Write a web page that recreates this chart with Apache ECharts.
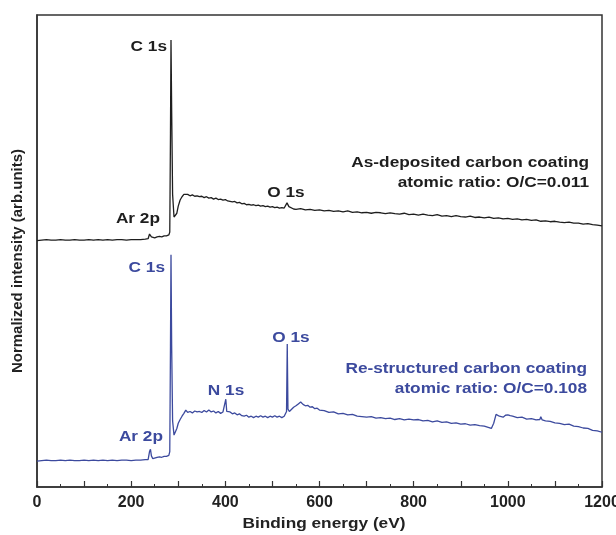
<!DOCTYPE html>
<html>
<head>
<meta charset="utf-8">
<script src="https://cdn.jsdelivr.net/npm/echarts@6/dist/echarts.min.js"></script>
<style>html,body{margin:0;padding:0;background:#fff;overflow:hidden}#c{width:616px;height:535px}</style>
</head>
<body>
<div id="c"></div>
<script>
// As-deposited carbon coating (black)
const blackEnergy = [0,10,20,30,40,50,60,70,80,90,100,110,120,130,140,150,160,170,180,190,200,210,220,230,236,239,241,243,246,250,255,260,265,270,275,280,282,283.5,284.6,286,288,291,294,297,300,304,308,312,316,320,325,330,335,340,345,350,355,360,365,370,375,380,385,390,395,400,405,410,415,420,425,430,435,440,445,450,455,460,465,470,475,480,485,490,495,500,505,510,515,520,525,528,531,533,535,538,545,550,560,570,580,590,600,610,620,630,640,650,660,670,680,690,700,710,720,730,740,750,760,770,780,790,800,810,820,830,840,850,860,870,880,890,900,910,920,930,940,950,960,970,980,990,1000,1010,1020,1030,1040,1050,1060,1070,1080,1090,1100,1110,1120,1130,1140,1150,1160,1170,1180,1190,1200];
const blackIntensity = [52.2,52.3,52.4,52.3,52.3,52.4,52.3,52.3,52.4,52.3,52.3,52.4,52.3,52.4,52.3,52.4,52.3,52.4,52.4,52.3,52.4,52.4,52.4,52.5,52.6,53.6,54.0,53.0,52.6,52.8,53.0,53.1,53.0,53.2,53.2,53.4,54.0,75.0,94.7,80.0,62.0,57.2,57.0,58.0,59.5,60.8,61.5,62.0,62.3,62.0,61.7,61.9,61.6,61.7,61.5,61.6,61.3,61.5,61.2,61.3,61.0,61.2,60.9,61.0,60.8,60.9,60.6,60.5,60.4,60.5,60.2,60.3,60.0,60.1,59.8,59.9,59.7,59.8,59.6,59.7,59.5,59.6,59.4,59.5,59.3,59.4,59.2,59.3,59.1,59.2,59.1,59.2,60.2,60.5,59.4,59.0,58.9,58.8,59.0,58.7,58.8,58.6,58.7,58.5,58.6,58.4,58.5,58.3,58.5,58.2,58.3,58.1,58.2,58.0,58.2,58.1,57.9,58.1,57.9,57.8,58.0,57.7,57.8,57.6,57.8,57.6,57.5,57.7,57.4,57.5,57.3,57.5,57.3,57.2,57.4,57.1,57.2,57.0,57.2,56.9,57.0,56.8,56.9,56.7,56.8,56.6,56.7,56.5,56.6,56.3,56.4,56.2,56.3,56.1,56.0,56.1,55.9,55.9,55.7,55.8,55.6,55.5,55.3];

// Re-structured carbon coating (blue)
const blueEnergy = [0,10,20,30,40,50,60,70,80,90,100,110,120,130,140,150,160,170,180,190,200,210,220,230,236,239,241,243,246,250,255,260,265,270,275,280,282,283.5,284.6,286,288,291,294,297,300,304,308,312,316,320,325,330,335,340,345,350,355,360,365,370,375,380,385,390,395,398,401,403,406,410,415,420,425,430,435,440,445,450,455,460,465,470,475,480,485,490,495,500,505,510,515,520,525,528,530,531.5,533,536,540,545,550,555,560,565,570,575,580,585,590,595,600,610,620,630,640,650,660,670,680,690,700,710,720,730,740,750,760,770,780,790,800,810,820,830,840,850,860,870,880,890,900,910,920,930,940,950,960,965,970,975,978,982,986,990,995,1000,1005,1010,1020,1030,1040,1050,1060,1068,1070,1073,1080,1090,1100,1110,1120,1130,1140,1150,1160,1170,1180,1190,1200];
const blueIntensity = [5.5,5.6,5.7,5.6,5.6,5.7,5.6,5.7,5.6,5.6,5.7,5.6,5.7,5.6,5.7,5.6,5.7,5.6,5.7,5.7,5.6,5.7,5.7,5.8,5.8,7.5,8.0,6.6,6.0,6.1,6.3,6.4,6.3,6.5,6.5,6.7,7.5,30.0,49.2,30.0,14.0,11.0,11.2,12.4,13.5,14.3,15.0,15.6,16.3,15.8,16.0,15.7,16.1,15.9,16.0,15.8,16.2,15.9,16.3,15.9,16.1,15.7,16.0,15.6,15.9,16.1,18.6,16.0,15.6,15.9,15.5,15.7,15.3,15.5,15.1,15.0,15.2,14.8,15.0,14.7,15.0,14.8,15.1,14.8,15.0,14.7,15.0,14.8,15.1,14.8,15.0,14.7,15.0,15.2,16.0,30.3,16.5,16.0,16.3,16.9,17.2,17.6,18.0,17.5,17.2,17.3,16.9,17.0,16.6,16.7,16.3,16.2,15.8,15.9,15.5,15.6,15.3,15.4,15.0,14.9,14.8,14.9,14.6,14.7,14.5,14.6,14.3,14.5,14.2,14.4,14.2,14.3,14.0,14.1,13.8,14.0,13.7,13.8,13.5,13.6,13.3,13.4,13.1,13.2,13.0,12.9,12.6,12.4,13.5,15.4,15.8,15.0,14.6,14.8,15.2,15.3,15.1,15.0,14.7,14.8,14.4,14.5,14.2,14.3,14.9,14.2,14.0,13.9,13.6,13.5,13.2,13.3,12.9,12.8,12.5,12.4,12.0,11.9,11.6];

const xTicks = [0,200,400,600,800,1000,1200];

const BLACK = '#1e1e1e';
const BLUE = '#3c4a9e';
const FONT = '"Liberation Sans", Arial, sans-serif';

function zip(xs, ys){ return xs.map((x,i)=>[x, ys[i]]); }

function label(text, x, y, color, align){
  return {
    type:'text', x:x, y:y, scaleX:1.15, scaleY:1, z:10,
    style:{ text:text, x:0, y:0, fill:color, font:'bold 15px ' + FONT,
            textAlign:align || 'right', textVerticalAlign:'middle' }
  };
}

const chart = echarts.init(document.getElementById('c'), null, {renderer:'canvas'});
chart.setOption({
  animation:false,
  backgroundColor:'#fff',
  grid:{ left:37, right:14, top:15, bottom:48, outerBoundsMode:'none', containLabel:false,
         show:true, borderColor:'#333', borderWidth:1.5, backgroundColor:'transparent' },
  xAxis:{
    type:'value', min:0, max:1200, interval:100,
    axisLine:{ show:true, lineStyle:{ color:'#333', width:1.5 } },
    axisTick:{ show:true, inside:true, length:6, lineStyle:{ color:'#333', width:1.2 } },
    minorTick:{ show:true, splitNumber:2, length:3, lineStyle:{ color:'#333', width:1 } },
    splitLine:{ show:false },
    axisLabel:{ color:'#222', fontWeight:'bold', fontSize:16, fontFamily:FONT, margin:8, hideOverlap:false,
      formatter:function(v){ return xTicks.indexOf(v) >= 0 ? String(v) : ''; } }
  },
  yAxis:{
    type:'value', min:0, max:100,
    axisLine:{ show:true, lineStyle:{ color:'#333', width:1.5 } },
    axisTick:{ show:false }, axisLabel:{ show:false }, splitLine:{ show:false }
  },
  series:[
    { type:'line', data:zip(blackEnergy, blackIntensity), showSymbol:false, symbol:'none',
      lineStyle:{ color:BLACK, width:1.3 }, z:3 },
    { type:'line', data:zip(blueEnergy, blueIntensity), showSymbol:false, symbol:'none',
      lineStyle:{ color:BLUE, width:1.3 }, z:3 }
  ],
  graphic:[
    label('C 1s', 167, 47, BLACK),
    label('Ar 2p', 160, 219, BLACK),
    label('O 1s', 286, 193, BLACK, 'center'),
    label('As-deposited carbon coating', 589, 163, BLACK),
    label('atomic ratio: O/C=0.011', 589, 183, BLACK),
    label('C 1s', 165, 268, BLUE),
    label('Ar 2p', 163, 437, BLUE),
    label('N 1s', 226, 391, BLUE, 'center'),
    label('O 1s', 291, 338, BLUE, 'center'),
    label('Re-structured carbon coating', 587, 369, BLUE),
    label('atomic ratio: O/C=0.108', 587, 389, BLUE),
    label('Binding energy (eV)', 324, 524, '#222', 'center'),
    { type:'text', x:18, y:261, rotation:Math.PI/2, z:10,
      style:{ text:'Normalized intensity (arb.units)', x:0, y:0, fill:'#222', font:'bold 15px ' + FONT,
              textAlign:'center', textVerticalAlign:'middle' } }
  ]
});
</script>
</body>
</html>
